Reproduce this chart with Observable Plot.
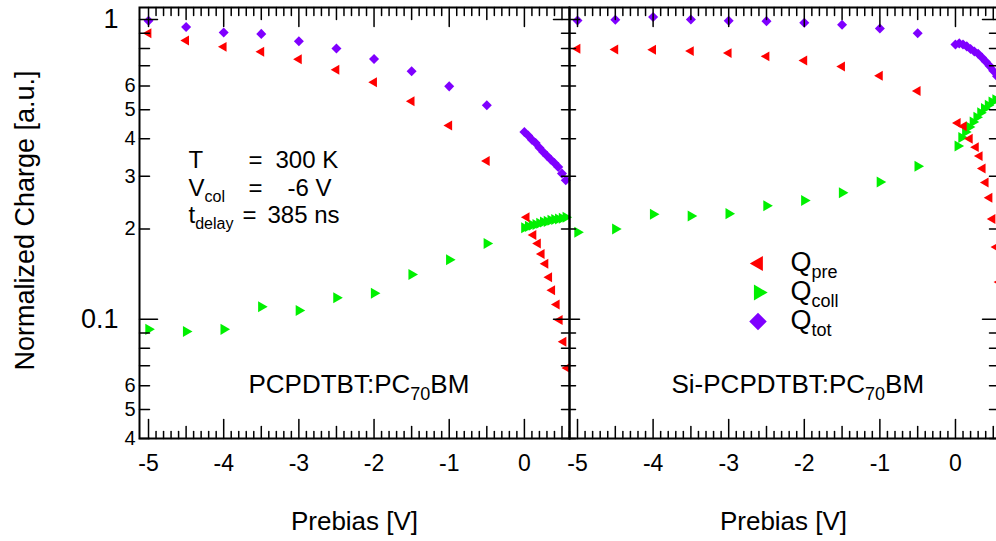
<!DOCTYPE html>
<html>
<head>
<meta charset="utf-8">
<script src="https://cdn.jsdelivr.net/npm/d3@7"></script>
<script src="https://cdn.jsdelivr.net/npm/@observablehq/plot@0.6"></script>
<style>
html, body { margin: 0; padding: 0; background: #fff; overflow: hidden; }
#chart { position: relative; width: 996px; height: 541px; overflow: hidden; background: #fff; }
#chart svg { position: absolute; top: 0; overflow: visible; }
</style>
</head>
<body>
<div id="chart"></div>
<script>
// ---------- data ----------
const prebias = [-5, -4.5, -4, -3.5, -3, -2.5, -2, -1.5, -1, -0.5];

// PCPDTBT:PC70BM (left panel)
const pcQpre  = [0.90, 0.85, 0.81, 0.78, 0.736, 0.68, 0.617, 0.533, 0.443, 0.337];
const pcQcoll = [0.0925, 0.091, 0.0925, 0.110, 0.107, 0.118, 0.122, 0.141, 0.158, 0.179];
const pcQtot  = [0.99, 0.943, 0.905, 0.895, 0.845, 0.80, 0.738, 0.672, 0.598, 0.517];
const pcFineXPre = [0.03, 0.12, 0.18, 0.23, 0.28, 0.33, 0.37, 0.43, 0.47, 0.52, 0.57];
const pcFinePre  = [0.219, 0.191, 0.179, 0.165, 0.153, 0.138, 0.125, 0.112, 0.0994, 0.0841, 0.0688];
const pcFineX    = [0, 0.05, 0.1, 0.15, 0.2, 0.25, 0.3, 0.35, 0.4, 0.45, 0.5, 0.55];
const pcFineColl = [0.202, 0.204, 0.206, 0.207, 0.209, 0.211, 0.212, 0.214, 0.215, 0.216, 0.217, 0.219];
const pcFineTot  = [0.421, 0.41, 0.397, 0.387, 0.373, 0.361, 0.351, 0.341, 0.332, 0.322, 0.306, 0.291];

// Si-PCPDTBT:PC70BM (right panel)
const siQpre  = [0.798, 0.794, 0.792, 0.784, 0.772, 0.753, 0.730, 0.697, 0.649, 0.577];
const siQcoll = [0.195, 0.200, 0.224, 0.221, 0.225, 0.239, 0.249, 0.264, 0.287, 0.324];
const siQtot  = [0.992, 0.998, 1.018, 1.0, 0.99, 0.987, 0.975, 0.96, 0.933, 0.90];
const siFineXPre  = [0.03, 0.11, 0.19, 0.27, 0.32, 0.36, 0.40, 0.45, 0.49, 0.54, 0.58];
const siFinePre   = [0.451, 0.440, 0.40, 0.375, 0.35, 0.318, 0.286, 0.254, 0.216, 0.174, 0.133];
const siFineXColl = [0.03, 0.08, 0.13, 0.18, 0.23, 0.28, 0.33, 0.38, 0.43, 0.48, 0.53];
const siFineColl  = [0.378, 0.404, 0.421, 0.438, 0.455, 0.472, 0.488, 0.504, 0.517, 0.530, 0.540];
const siFineXTot  = [0, 0.05, 0.1, 0.15, 0.2, 0.25, 0.3, 0.35, 0.4, 0.45, 0.5, 0.55];
const siFineTot   = [0.825, 0.832, 0.825, 0.813, 0.797, 0.782, 0.768, 0.747, 0.724, 0.700, 0.674, 0.646];

// ticks
const xTickValues = [-5, -4, -3, -2, -1, 0];
const xTickLabels = ["-5", "-4", "-3", "-2", "-1", "0"];
const xHalfTicks = [-4.5, -3.5, -2.5, -1.5, -0.5, 0.5];
const yTickValues = [1, 0.6, 0.5, 0.4, 0.3, 0.2, 0.1, 0.06, 0.05, 0.04];
const yTickLabels = ["1", "6", "5", "4", "3", "2", "0.1", "6", "5", "4"];
const yMajorTicks = [1, 0.1];
const yMinorTicks = [0.04, 0.05, 0.06, 0.07, 0.08, 0.09, 0.2, 0.3, 0.4, 0.5, 0.6, 0.7, 0.8, 0.9];
const seriesNames = ["Q_{pre}", "Q_{coll}", "Q_{tot}"];

// ---------- styling ----------
const FONT = "'Liberation Sans', Arial, Helvetica, sans-serif";
const RED = "#ff0000", GREEN = "#00f000", PURPLE = "#7f00ff";
const xMinorTicks = d3.range(-49, 7).map(i => i / 10)
  .filter(v => Math.abs(v * 2 - Math.round(v * 2)) > 1e-6);

const triLeft = {draw(c, size) { const a = Math.sqrt(size / (3 * Math.sqrt(3)));
  c.moveTo(-2 * a, 0); c.lineTo(a, -Math.sqrt(3) * a); c.lineTo(a, Math.sqrt(3) * a); c.closePath(); }};
const triRight = {draw(c, size) { const a = Math.sqrt(size / (3 * Math.sqrt(3)));
  c.moveTo(2 * a, 0); c.lineTo(-a, -Math.sqrt(3) * a); c.lineTo(-a, Math.sqrt(3) * a); c.closePath(); }};
const diamond = {draw(c, size) { const h = Math.sqrt(size / 2);
  c.moveTo(0, -h); c.lineTo(h, 0); c.lineTo(0, h); c.lineTo(-h, 0); c.closePath(); }};
const tickShape = {draw(c, l) { c.moveTo(0, 0); c.lineTo(0, -l); }};

const rows = (xs, ys) => xs.map((x, i) => ({x, y: ys[i]}));

function xTicks(values, len, anchor) {
  return Plot.vector(values, {x: d => d, frameAnchor: anchor, length: len,
    rotate: anchor === "bottom" ? 0 : 180, anchor: "start", shape: tickShape,
    stroke: "black", strokeWidth: 1.5});
}
function yTicks(values, len, anchor) {
  return Plot.vector(values, {y: d => d, frameAnchor: anchor, length: len,
    rotate: anchor === "left" ? 90 : 270, anchor: "start", shape: tickShape,
    stroke: "black", strokeWidth: 1.5});
}
function xAxisMarks() {
  return [
    xTicks(xTickValues, 19, "bottom"), xTicks(xHalfTicks, 12, "bottom"), xTicks(xMinorTicks, 7, "bottom"),
    xTicks(xTickValues, 19, "top"), xTicks(xHalfTicks, 12, "top"), xTicks(xMinorTicks, 8, "top"),
    Plot.text(xTickValues.map((v, i) => ({v, t: xTickLabels[i]})), {x: "v", text: "t",
      frameAnchor: "bottom", dy: 32, lineAnchor: "bottom", fontSize: 23, fill: "black"}),
    Plot.text(["Prebias [V]"], {frameAnchor: "bottom", dy: 91, lineAnchor: "bottom",
      fontSize: 26, fill: "black"}),
    Plot.frame({stroke: "black", strokeWidth: 2})
  ];
}
function dataMarks(pre, coll, tot) {
  return [
    Plot.dot(coll, {x: "x", y: "y", symbol: triRight, r: 4.1, fill: GREEN, stroke: "none"}),
    Plot.dot(tot, {x: "x", y: "y", symbol: diamond, r: 4.0, fill: PURPLE, stroke: "none"}),
    Plot.dot(pre, {x: "x", y: "y", symbol: triLeft, r: 3.7, fill: RED, stroke: "none"})
  ];
}
function note(txt, dx, dy, fontSize) {
  return Plot.text([txt], {frameAnchor: "top-left", dx, dy, lineAnchor: "bottom",
    textAnchor: "start", fontSize, fill: "black"});
}

const yDomain = [0.04, 1.096];

// ---------- left panel ----------
const left = Plot.plot({
  width: 569, height: 541,
  marginLeft: 139, marginRight: 0, marginTop: 7, marginBottom: 103,
  x: {domain: [-5.12, 0.6], axis: null},
  y: {type: "log", domain: yDomain, axis: null},
  style: {fontFamily: FONT, background: "transparent", overflow: "visible", color: "black"},
  marks: [
    ...dataMarks(
      [...rows(prebias, pcQpre), ...rows(pcFineXPre, pcFinePre)],
      [...rows(prebias, pcQcoll), ...rows(pcFineX, pcFineColl)],
      [...rows(prebias, pcQtot), ...rows(pcFineX, pcFineTot)]
    ),
    ...xAxisMarks(),
    yTicks(yMajorTicks, 18, "left"), yTicks(yMinorTicks, 10, "left"),
    yTicks(yMajorTicks, 16, "right"), yTicks(yMinorTicks, 8, "right"),
    Plot.text(yTickValues.map((v, i) => ({v, t: yTickLabels[i]})).filter(d => yMajorTicks.includes(d.v)),
      {y: "v", text: "t", frameAnchor: "left", textAnchor: "end", dx: -21, fontSize: 27, fill: "black"}),
    Plot.text(yTickValues.map((v, i) => ({v, t: yTickLabels[i]})).filter(d => !yMajorTicks.includes(d.v)),
      {y: "v", text: "t", frameAnchor: "left", textAnchor: "end", dx: -4, fontSize: 20, fill: "black"}),
    Plot.text(["Normalized Charge [a.u.]"], {frameAnchor: "left", rotate: -90, dx: -105.5, dy: -2.5,
      lineAnchor: "bottom", textAnchor: "middle", fontSize: 27, fill: "black"}),
    // annotation
    note("T", 49, 160, 24),
    note("V_{col}", 49, 188, 24),
    note("t_{delay}", 49, 215, 24),
    note("=", 109, 160, 24),
    note("=", 109, 188, 24),
    note("=", 103, 215, 24),
    note("300 K", 136, 160, 24),
    note("-6 V", 148, 188, 24),
    note("385 ns", 128, 215, 24),
    note("PCPDTBT:PC_{70}BM", 109, 385, 26)
  ]
});

// ---------- right panel ----------
const right = Plot.plot({
  width: 428, height: 541,
  marginLeft: 0, marginRight: 0, marginTop: 7, marginBottom: 103,
  x: {domain: [-5.106, 0.556], axis: null},
  y: {type: "log", domain: yDomain, axis: null},
  style: {fontFamily: FONT, background: "transparent", overflow: "visible", color: "black"},
  marks: [
    ...dataMarks(
      [...rows(prebias, siQpre), ...rows(siFineXPre, siFinePre)],
      [...rows(prebias, siQcoll), ...rows(siFineXColl, siFineColl)],
      [...rows(prebias, siQtot), ...rows(siFineXTot, siFineTot)]
    ),
    ...xAxisMarks(),
    yTicks(yMajorTicks, 10, "left"), yTicks(yMinorTicks, 6, "left"),
    yTicks(yMajorTicks, 15, "right"), yTicks(yMinorTicks, 8, "right"),
    note("Si-PCPDTBT:PC_{70}BM", 102, 385, 26),
    // legend
    Plot.dot([seriesNames[0]], {frameAnchor: "top-left", dx: 189, dy: 256, symbol: triLeft, r: 5.6, fill: RED, stroke: "none"}),
    Plot.dot([seriesNames[1]], {frameAnchor: "top-left", dx: 189, dy: 285, symbol: triRight, r: 5.9, fill: GREEN, stroke: "none"}),
    Plot.dot([seriesNames[2]], {frameAnchor: "top-left", dx: 188.5, dy: 314, symbol: diamond, r: 7.0, fill: PURPLE, stroke: "none"}),
    note(seriesNames[0], 221, 263, 27),
    note(seriesNames[1], 221, 292, 27),
    note(seriesNames[2], 221, 321, 27)
  ]
});

const chart = document.getElementById("chart");
left.style.left = "0px";
right.style.left = "569px";
chart.appendChild(left);
chart.appendChild(right);

// subscripts: "X_{sub}" -> tspans
function applySubscripts(svg) {
  d3.select(svg).selectAll("text").each(function () {
    const t = this.textContent;
    if (!t.includes("_{")) return;
    const fs = parseFloat(getComputedStyle(this).fontSize) || 24;
    const shift = fs * 0.28;
    const parts = t.split(/_\{([^}]*)\}/);
    this.textContent = "";
    const sel = d3.select(this);
    let down = false;
    parts.forEach((p, i) => {
      if (p === "") return;
      const ts = sel.append("tspan").text(p);
      if (i % 2 === 1) { ts.attr("font-size", Math.round(fs * 0.68)).attr("dy", shift); down = true; }
      else if (down) { ts.attr("dy", -shift); down = false; }
    });
  });
}
applySubscripts(left);
applySubscripts(right);
</script>
</body>
</html>
